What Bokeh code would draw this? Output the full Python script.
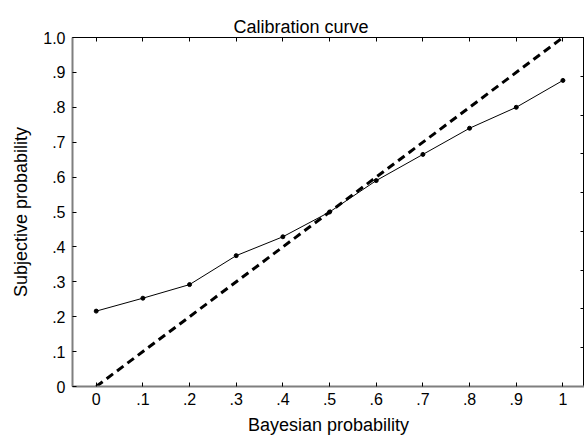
from bokeh.plotting import figure
from bokeh.models import LinearAxis, Range1d, FixedTicker, Title, CustomJSTickFormatter
from bokeh.embed import file_html
from bokeh.resources import INLINE

# data
bayesian = [0.0, 0.1, 0.2, 0.3, 0.4, 0.5, 0.6, 0.7, 0.8, 0.9, 1.0]
subjective = [0.216, 0.253, 0.292, 0.375, 0.429, 0.500, 0.590, 0.665, 0.740, 0.800, 0.877]
diag_x = [0.0, 1.0]
diag_y = [0.0, 1.0]
x_ticks = [0.0, 0.1, 0.2, 0.3, 0.4, 0.5, 0.6, 0.7, 0.8, 0.9, 1.0]
x_tick_labels = ["0", ".1", ".2", ".3", ".4", ".5", ".6", ".7", ".8", ".9", "1"]
y_ticks = [0.0, 0.1, 0.2, 0.3, 0.4, 0.5, 0.6, 0.7, 0.8, 0.9, 1.0]
y_tick_labels = ["0", ".1", ".2", ".3", ".4", ".5", ".6", ".7", ".8", ".9", "1.0"]

FONT = "Liberation Sans"
FW = 512

p = figure(frame_width=FW, frame_height=349,
           x_range=Range1d(-0.0508, -0.0508 + FW / 466.7), y_range=Range1d(0, 1),
           output_backend="svg", toolbar_location=None,
           min_border_left=72, min_border_right=0, min_border_top=37, min_border_bottom=50,
           x_axis_label="Bayesian probability", y_axis_label="Subjective probability")
p.background_fill_color = "white"
p.border_fill_color = "white"
p.outline_line_color = "black"
p.outline_line_width = 1
p.xgrid.visible = False
p.ygrid.visible = False

def style_axis(ax, ticks, labels, color, width):
    ax.ticker = FixedTicker(ticks=ticks)
    if labels is not None:
        ax.major_label_overrides = {t: l for t, l in zip(ticks, labels)}
    ax.major_tick_in = 4
    ax.major_tick_out = 0
    ax.minor_tick_line_color = None
    ax.axis_line_color = color
    ax.axis_line_width = width
    ax.major_tick_line_color = "black"
    ax.major_label_text_font = FONT
    ax.major_label_text_font_size = "16px"
    ax.major_label_text_color = "black"
    ax.axis_label_text_font = FONT
    ax.axis_label_text_font_size = "18px"
    ax.axis_label_text_font_style = "normal"
    ax.axis_label_text_color = "black"

style_axis(p.xaxis[0], x_ticks, x_tick_labels, "#7f7f7f", 2)
p.xaxis[0].major_label_standoff = 6
p.xaxis[0].axis_label_standoff = 7
style_axis(p.yaxis[0], y_ticks, y_tick_labels, "#7f7f7f", 2)
p.yaxis[0].major_label_standoff = 7
p.yaxis[0].axis_label_standoff = 9

blank = CustomJSTickFormatter(code="return ''")

top = LinearAxis()
style_axis(top, x_ticks, None, "black", 1)
top.formatter = blank
top.major_label_standoff = 0
p.add_layout(top, "above")

p.extra_y_ranges = {"r": Range1d(0, 9)}
right = LinearAxis(y_range_name="r")
style_axis(right, [1, 2, 3, 4, 5, 6, 7, 8], None, "#444444", 1)
right.formatter = blank
right.major_label_standoff = 0
p.add_layout(right, "right")

title = Title(text="Calibration curve", align="left", offset=161,
              text_font=FONT, text_font_size="18px", text_font_style="normal",
              text_color="black", standoff=2)
p.add_layout(title, "above")

p.line(diag_x, diag_y, line_color="black", line_width=3, line_dash="8 5")
p.line(bayesian, subjective, line_color="black", line_width=1)
p.scatter(bayesian, subjective, marker="circle", size=4, fill_color="black", line_color="black")

open("out.html", "w").write(file_html(p, INLINE))
